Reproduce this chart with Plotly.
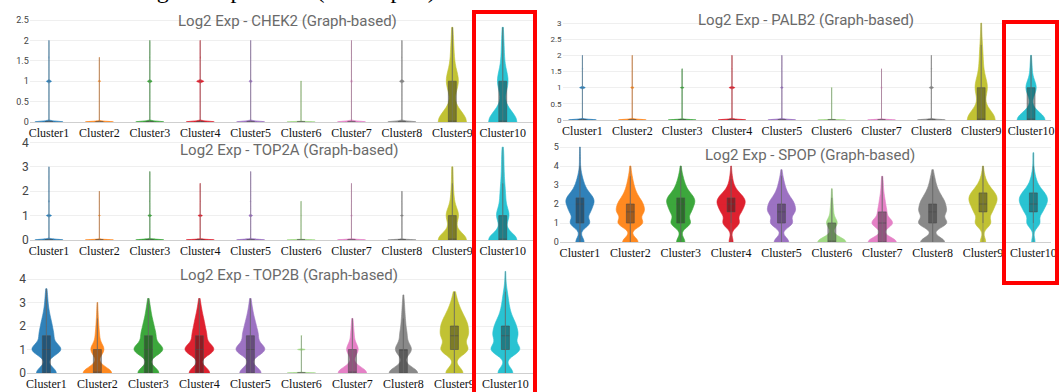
import numpy as np
import plotly.graph_objects as go

W, H = 1059, 392

CLUSTERS = ["Cluster1", "Cluster2", "Cluster3", "Cluster4", "Cluster5",
            "Cluster6", "Cluster7", "Cluster8", "Cluster9", "Cluster10"]
COLORS = ["#1f77b4", "#ff7f0e", "#2ca02c", "#dc0f1e", "#9467bd",
          "#98d67a", "#e377c2", "#7f7f7f", "#bcbd22", "#17becf"]

# expression levels (log2 scale) and number of cells per level, per cluster
LEVELS = [0.0, 1.0, 1.585, 2.0, 2.322, 2.585, 2.807, 3.0, 3.17, 3.322,
          3.459, 3.585, 3.807, 4.0, 4.322, 4.585, 4.7, 5.0]

CHEK2 = [[400, 70, 6, 1], [400, 30, 2], [400, 65, 4, 1], [400, 100, 8, 1],
         [400, 40, 4, 1], [80, 3], [400, 20, 2, 1], [400, 65, 6, 1],
         [60, 25, 6, 3, 1], [60, 22, 5, 3, 1]]
PALB2 = [[400, 80, 6, 1], [400, 45, 3, 1], [400, 50, 2], [400, 80, 5, 1],
         [400, 35, 3, 1], [80, 2], [400, 14, 1], [400, 60, 8, 1],
         [60, 25, 6, 4, 2, 1, 0, 1], [60, 22, 4, 1]]
TOP2A = [[400, 70, 12, 3, 1, 1, 1, 1], [400, 22, 3, 1], [400, 50, 5, 2, 1, 1, 1],
         [400, 60, 4, 2, 1], [400, 50, 8, 2, 1, 1, 1], [80, 2, 1],
         [400, 16, 2, 1, 1], [400, 40, 3, 1], [60, 25, 5, 3, 1, 1, 1, 1],
         [60, 25, 8, 6, 3, 2, 2, 1, 1, 1, 1, 1, 1]]
SPOP = [[18, 40, 34, 36, 32, 14, 9, 6, 4, 3, 2, 2, 1, 1, 1, 1, 0, 1],
        [30, 45, 42, 32, 16, 9, 6, 4, 3, 2, 2, 1, 1, 1],
        [18, 40, 34, 36, 32, 14, 9, 6, 4, 3, 2, 2, 1, 1],
        [12, 46, 46, 52, 42, 18, 8, 5, 3, 2, 2, 1, 1, 1],
        [30, 42, 44, 34, 18, 9, 6, 4, 3, 2, 1, 1, 1],
        [80, 30, 8, 4, 2, 1, 1],
        [70, 50, 18, 10, 6, 3, 2, 2, 1, 1, 1],
        [45, 50, 40, 30, 18, 10, 6, 4, 3, 2, 2, 1, 1],
        [14, 38, 36, 40, 38, 26, 14, 8, 5, 3, 2, 2, 1, 1],
        [10, 36, 40, 48, 42, 28, 14, 8, 5, 4, 3, 2, 2, 1, 1, 1, 1]]
TOP2B = [[60, 85, 35, 22, 12, 7, 4, 3, 2, 2, 1, 1],
         [100, 45, 12, 6, 3, 2, 1, 1],
         [60, 80, 34, 20, 10, 6, 4, 2, 1],
         [60, 82, 34, 20, 12, 6, 4, 2, 1],
         [58, 76, 34, 20, 10, 6, 3, 2, 1],
         [30, 8, 1],
         [100, 40, 10, 5, 2],
         [95, 52, 20, 10, 6, 4, 3, 2, 1, 1],
         [40, 60, 50, 40, 24, 14, 8, 5, 3, 2, 1],
         [38, 70, 50, 36, 18, 10, 7, 5, 4, 3, 2, 2, 1, 1, 1]]

TITLES = ["Log2 Exp - CHEK2 (Graph-based)", "Log2 Exp - TOP2A (Graph-based)",
          "Log2 Exp - TOP2B (Graph-based)", "Log2 Exp - PALB2 (Graph-based)",
          "Log2 Exp - SPOP (Graph-based)"]
MAIN_TITLE = "B. HRR related gene expression (Violin plot)"

SERIF = "Liberation Serif, Times New Roman, serif"
SANS = "Roboto, Arial, sans-serif"


def px_x(p):
    return p / W


def px_y(p):
    return 1 - p / H


# panel layout in pixels: x-left, x-right, y-top, y-bottom, ranges, ticks
PANELS = [
    dict(counts=CHEK2, title=TITLES[0], xpx=(29.8, 533), ypx=(16, 122), xr=[-0.38, 9.6],
         yr=[0, 2.6], tv=[0, 0.5, 1, 1.5, 2, 2.5], tfs=9, bw=None, tpos=(287, 21)),
    dict(counts=TOP2A, title=TITLES[1], xpx=(29.8, 533), ypx=(140, 240), xr=[-0.38, 9.6],
         yr=[0, 4.1], tv=[0, 1, 2, 3, 4], tfs=12, bw=None, tpos=(289, 150)),
    dict(counts=TOP2B, title=TITLES[2], xpx=(27, 536), ypx=(269.6, 373), xr=[-0.38, 9.6],
         yr=[0, 4.4], tv=[0, 1, 2, 3, 4], tfs=12, bw=0.25, tpos=(289, 275)),
    dict(counts=PALB2, title=TITLES[3], xpx=(562.5, 1051), ypx=(18.2, 120), xr=[-0.4, 9.4],
         yr=[0, 3.15], tv=[0, 0.5, 1, 1.5, 2, 2.5, 3], tfs=8, bw=None, tpos=(806, 20)),
    dict(counts=SPOP, title=TITLES[4], xpx=(559.8, 1051), ypx=(143.2, 242), xr=[-0.4, 9.35],
         yr=[0, 5.2], tv=[0, 1, 2, 3, 4, 5], tfs=9, bw=0.25, tpos=(810, 155)),
]

fig = go.Figure()
annotations = []
layout_axes = {}

for k, p in enumerate(PANELS):
    n = k + 1
    xa = "x" if n == 1 else f"x{n}"
    ya = "y" if n == 1 else f"y{n}"
    for ci, (name, counts) in enumerate(zip(CLUSTERS, p["counts"])):
        vals = np.repeat(np.array(LEVELS[:len(counts)]), counts)
        q3 = np.quantile(vals, 0.75)
        kw = {}
        if q3 > 0 and p["bw"] is not None:
            kw["bandwidth"] = p["bw"]
        fig.add_trace(go.Violin(
            x=[name] * len(vals), y=vals, xaxis=xa, yaxis=ya,
            name=name, showlegend=False, points=False,
            spanmode="hard", scalemode="width", width=0.56,
            fillcolor=COLORS[ci], opacity=0.92,
            line=dict(color=COLORS[ci], width=0.6),
            box=dict(visible=True, width=0.28, fillcolor="rgba(0,0,0,0.4)",
                     line=dict(color="rgba(60,60,60,0.55)", width=1)),
            meanline=dict(visible=False),
            hoverinfo="skip", **kw))
        fig.add_trace(go.Scatter(
            x=[name, name], y=[float(vals.min()), float(vals.max())],
            xaxis=xa, yaxis=ya, mode="lines", showlegend=False,
            line=dict(color="rgba(120,120,120,0.5)", width=1), hoverinfo="skip"))

    xk = "xaxis" if n == 1 else f"xaxis{n}"
    yk = "yaxis" if n == 1 else f"yaxis{n}"
    layout_axes[xk] = dict(
        domain=[px_x(p["xpx"][0]), px_x(p["xpx"][1])], anchor=ya,
        type="category", categoryorder="array", categoryarray=CLUSTERS,
        range=p["xr"], showgrid=False, zeroline=False, showline=True,
        linecolor="#cfcfcf", linewidth=1, ticks="", automargin=False,
        tickfont=dict(family=SERIF, size=12, color="#111111"),
        fixedrange=True)
    layout_axes[yk] = dict(
        domain=[px_y(p["ypx"][1]), px_y(p["ypx"][0])], anchor=xa,
        range=p["yr"], tickvals=p["tv"], ticktext=[f"{v:g}" for v in p["tv"]],
        showgrid=True, gridcolor="#efefef", gridwidth=1, zeroline=False,
        showline=False, ticks="", automargin=False,
        tickfont=dict(family=SANS, size=p["tfs"], color="#444444"),
        fixedrange=True)
    annotations.append(dict(
        text=p["title"], xref="paper", yref="paper",
        x=px_x(p["tpos"][0]), y=px_y(p["tpos"][1]), xanchor="center", yanchor="middle",
        showarrow=False, font=dict(family=SANS, size=15, color="#6a6a6a")))

annotations.append(dict(
    text=MAIN_TITLE, xref="paper", yref="paper", x=0, y=px_y(5),
    xanchor="left", yanchor="bottom", showarrow=False,
    font=dict(family=SERIF, size=24, color="#000000")))

shapes = [
    dict(type="rect", xref="paper", yref="paper",
         x0=px_x(474), x1=px_x(535), y0=px_y(396), y1=px_y(12),
         line=dict(color="#ff0000", width=4)),
    dict(type="rect", xref="paper", yref="paper",
         x0=px_x(1004), x1=px_x(1057), y0=px_y(283), y1=px_y(22),
         line=dict(color="#ff0000", width=4)),
]

fig.update_layout(
    width=W, height=H, margin=dict(l=0, r=0, t=0, b=0, autoexpand=False),
    paper_bgcolor="white", plot_bgcolor="white",
    violinmode="overlay", showlegend=False,
    annotations=annotations, shapes=shapes, **layout_axes)

fig.write_html(
    "out.html",
    config={"displayModeBar": False, "staticPlot": True},
    post_script="document.body.style.margin='0px';document.body.style.overflow='hidden';")
